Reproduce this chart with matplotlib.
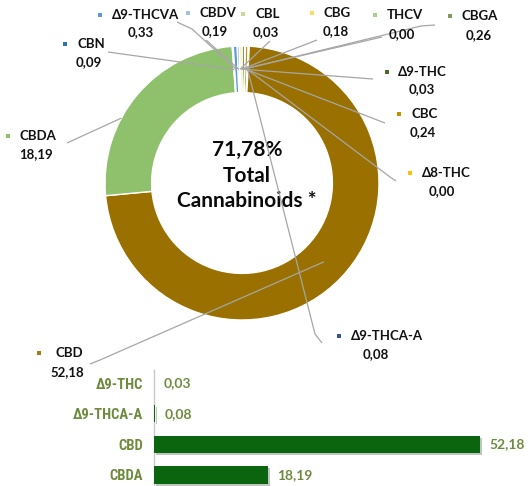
import matplotlib
matplotlib.use("Agg")
import matplotlib.pyplot as plt
import matplotlib.patheffects as pe
from matplotlib import font_manager
import numpy as np

# ---------------- data ----------------
donut_labels = ["THCV", "CBGA", "Δ9-THC", "CBC", "Δ8-THC", "Δ9-THCA-A",
                "CBD", "CBDA", "CBN", "Δ9-THCVA", "CBDV", "CBL", "CBG"]
donut_values = [0.00, 0.26, 0.03, 0.24, 0.00, 0.08,
                52.18, 18.19, 0.09, 0.33, 0.19, 0.03, 0.18]
donut_value_text = ["0,00", "0,26", "0,03", "0,24", "0,00", "0,08",
                    "52,18", "18,19", "0,09", "0,33", "0,19", "0,03", "0,18"]
total_text = "71,78%"

bar_categories = ["CBDA", "CBD", "Δ9-THCA-A", "Δ9-THC"]
bar_values = [18.19, 52.18, 0.08, 0.03]
bar_value_text = ["18,19", "52,18", "0,08", "0,03"]

# ---------------- styles ----------------
colors = {
    "THCV": "#A9D18E", "CBGA": "#7F9A65", "Δ9-THC": "#4E6B2E", "CBC": "#BF9000",
    "Δ8-THC": "#FFC000", "Δ9-THCA-A": "#2F5597", "CBD": "#9A7000",
    "CBDA": "#8FC06C", "CBN": "#2E75B6", "Δ9-THCVA": "#5B9BD5",
    "CBDV": "#9DC3E6", "CBL": "#C9D99A", "CBG": "#FFD966",
}
marker_colors = dict(colors)
marker_colors["CBD"] = "#A57A12"

layout = {
    "CBN":       dict(m=(65, 44), v=(89, 62), lead=[(108, 52)], off=12),
    "Δ9-THCVA":  dict(m=(100, 15), v=(141, 32), lead=[(177, 22), (192, 29)], off=12),
    "CBDV":      dict(m=(188, 13), v=(215, 31), lead=[(206, 40)], off=12),
    "CBL":       dict(m=(243, 14), v=(266, 32), lead=[(270, 41)], off=12),
    "CBG":       dict(m=(312, 13), v=(336, 31), lead=[(317, 40)], off=11),
    "THCV":      dict(m=(375, 15), v=(402, 34), lead=[(382, 37)], off=12),
    "CBGA":      dict(m=(450, 16), v=(479, 35), lead=[(435, 25), (421, 26)], off=12),
    "Δ9-THC":    dict(m=(387, 72), v=(422, 89), lead=[(373, 79)], off=11),
    "CBC":       dict(m=(399, 114), v=(423, 132), lead=[(385, 123)], off=13),
    "Δ8-THC":    dict(m=(410, 173), v=(442, 191), lead=[(396, 181), (390, 177)], off=12),
    "Δ9-THCA-A": dict(m=(339, 336), v=(376, 354), lead=[(322, 343), (315, 334)], off=12),
    "CBD":       dict(m=(39, 353), v=(67, 372), lead=[(90, 364), (100, 360)], off=17),
    "CBDA":      dict(m=(8, 136), v=(36, 154), lead=[(67, 143)], off=12),
}
lead_r = {"CBDA": 1.0}
lead_da = {"CBDA": 12.0}

W, H = 530, 486
CX, CY, R = 242, 183, 137
RING = 0.34

available = {f.name for f in font_manager.fontManager.ttflist}
label_font = ["Lato", "DejaVu Sans"]
narrow_font = [f for f in ["Liberation Sans Narrow", "Roboto Condensed", "Open Sans Condensed"]
               if f in available] + ["Liberation Sans", "DejaVu Sans"]
narrow = narrow_font[0] not in ("Liberation Sans", "DejaVu Sans")
value_green = "#6E8B3D"
bar_green = "#0B650E"
leader_col = "#A6A6A6"

fig = plt.figure(figsize=(W / 100, H / 100), dpi=100)
ax = fig.add_axes([0, 0, 1, 1])


def P(x, y):
    return ((x - CX) / R, (CY - y) / R)


ax.pie(donut_values, colors=[colors[n] for n in donut_labels], startangle=90,
       counterclock=False, radius=1,
       wedgeprops=dict(width=RING, edgecolor="white", linewidth=1.0))
ax.set_aspect("auto")
ax.set_xlim(-CX / R, (W - CX) / R)
ax.set_ylim(-(H - CY) / R, CY / R)
ax.axis("off")

total = sum(donut_values)
cum = np.cumsum([0] + donut_values[:-1])
for i, name in enumerate(donut_labels):
    lay = layout[name]
    mid = 90 - 360 * (cum[i] + donut_values[i] / 2) / total + lead_da.get(name, 0)
    r = lead_r.get(name, 1 - RING / 2)
    tx, ty = r * np.cos(np.radians(mid)), r * np.sin(np.radians(mid))
    pts = [P(*p) for p in lay["lead"]] + [(tx, ty)]
    xs, ys = zip(*pts)
    ax.plot(xs, ys, color=leader_col, lw=0.9, zorder=5, solid_capstyle="butt")
    mx, my = lay["m"]
    ax.scatter(*P(mx, my), marker="s", s=9, color=marker_colors[name], zorder=6, linewidths=0)
    ax.text(*P(mx + lay["off"], my), name, ha="left", va="center", fontsize=9.5,
            fontweight="bold", family=label_font, color="#111111", zorder=6)
    vx, vy = lay["v"]
    ax.text(*P(vx, vy), donut_value_text[i], ha="center", va="center", fontsize=9.5,
            fontweight="bold", family=label_font, color="#111111", zorder=6)

for txt, yy in [(total_text, 150), ("Total", 176), ("Cannabinoids *", 201)]:
    ax.text(*P(247, yy), txt, ha="center", va="center", fontsize=15,
            fontweight="bold", family=label_font, color="#0A0A0A")

# ---------------- bar chart ----------------
bx0, bw = 154, 375
top_px, bot_px = 370, 486
bax = fig.add_axes([bx0 / W, (H - bot_px) / H, bw / W, (bot_px - top_px) / H])
bax.patch.set_alpha(0)
ypos = np.arange(len(bar_categories))
bars = bax.barh(ypos, bar_values, height=0.56, color=bar_green, zorder=3)
for b in bars:
    b.set_path_effects([pe.SimplePatchShadow(offset=(1.5, -1.5), alpha=0.25), pe.Normal()])
bax.set_xlim(0, 60)
bax.set_ylim(-0.359, 3.424)
bax.set_yticks(ypos)
bax.set_yticklabels(bar_categories, family=narrow_font,
                    fontsize=10.5 if narrow else 10,
                    fontweight="bold" if narrow else "normal",
                    color=value_green)
bax.tick_params(axis="y", length=0, pad=8)
bax.set_xticks([])
for s in ["top", "right", "bottom"]:
    bax.spines[s].set_visible(False)
bax.spines["left"].set_color("#C8C8C8")
bax.spines["left"].set_linewidth(1)
for yv, v, t in zip(ypos, bar_values, bar_value_text):
    bax.annotate(t, (v, yv), xytext=(7, 0), textcoords="offset points",
                 ha="left", va="center", fontsize=10, fontweight="bold",
                 family=label_font, color=value_green)

fig.savefig("out.png", dpi=100)
